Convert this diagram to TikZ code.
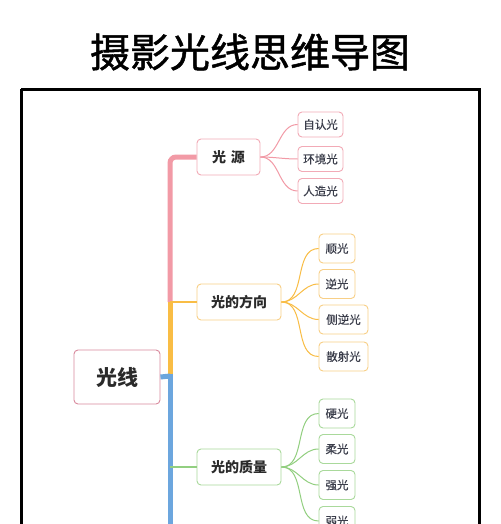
\documentclass[tikz,border=0pt]{standalone}
\usepackage{fontspec}
\setmainfont{Noto Sans CJK SC}
\newfontfamily\titlefont[FakeBold=1.2]{Noto Sans CJK SC}
\newfontfamily\leaffont[FakeBold=0.6]{Noto Sans CJK SC}
\usetikzlibrary{calc}
\definecolor{pinkln}{HTML}{F29AA6}
\definecolor{pinkbd}{HTML}{F2AAB6}
\definecolor{rootbd}{HTML}{D98A9E}
\definecolor{orgln}{HTML}{F9BD45}
\definecolor{orgbd}{HTML}{F8CF86}
\definecolor{blueln}{HTML}{6CA6DE}
\definecolor{grnln}{HTML}{92CF80}
\definecolor{grnbd}{HTML}{A9D99B}
\definecolor{txt}{HTML}{2A2A2A}
\definecolor{leaftxt}{HTML}{3A3D4A}
\begin{document}
\begin{tikzpicture}[x=1pt,y=-1pt,
  box/.style={draw, rounded corners=4pt, fill=white, line width=0.9pt, inner sep=0pt, align=center},
  rootbox/.style={box, draw=rootbd, minimum width=86pt, minimum height=54pt, font=\fontsize{21}{24}\selectfont\bfseries, text=txt},
  mainbox/.style={box, minimum width=84pt, minimum height=36pt, font=\fontsize{14}{16}\selectfont\bfseries, text=txt},
  leafbox/.style={box, minimum height=29pt, font=\leaffont\fontsize{11.5}{13}\selectfont, text=leaftxt},
  pleaf/.style={leafbox, draw=pinkbd, minimum width=45pt, minimum height=25pt},
  oleaf/.style={leafbox, draw=orgbd, minimum width=36pt},
  gleaf/.style={leafbox, draw=grnbd, minimum width=36pt},
  oleafw/.style={oleaf, minimum width=49pt},
  twig/.style={line width=1pt, out=0, in=180}
]
\useasboundingbox (0,0) rectangle (500,524);
\fill[white] (0,0) rectangle (500,524);

% title
\node[font=\titlefont\fontsize{40}{44}\selectfont, text=black] (title) at (250,52) {摄影光线思维导图};

% frame
\draw[line width=3pt, black] (21,89.5) -- (479,89.5) -- (479,540) (21,540) -- (21,89.5);

% coordinates on trunk
\coordinate (tp) at (170,302);
\coordinate (tb) at (170,376);
\coordinate (tg) at (170,467);
\coordinate (tend) at (170,540);

% main nodes
\node[rootbox] (root) at (117,377) {光线};
\node[mainbox, draw=pinkbd, minimum width=63pt] (src) at (228.5,157) {光\,\,源};
\node[mainbox, draw=orgbd] (dir) at (239,302) {光的方向};
\node[mainbox, draw=grnbd] (qual) at (239,467) {光的质量};

% trunk
\draw[pinkln, line width=5pt, rounded corners=6pt] (tp) |- (src.west);
\draw[orgln, line width=5pt] (tb) -- (tp);
\draw[orgln, line width=2.5pt] (tp) -- (dir.west);
\draw[blueln, line width=5pt] (root.east) -- (tb);
\draw[blueln, line width=5pt] ($(tb)+(0,-2.5)$) -- (tend);
\draw[grnln, line width=1.5pt] (tg) -- (qual.west);

% pink leaves
\node[pleaf] (p1) at (320.5,124.5) {自认光};
\node[pleaf] (p2) at (320.5,159) {环境光};
\node[pleaf] (p3) at (320.5,191) {人造光};
\foreach \l in {p1,p2,p3} \draw[pinkln, twig] (src.east) to (\l.west);

% orange leaves
\node[oleaf] (o1) at (337,248.5) {顺光};
\node[oleaf] (o2) at (337,284) {逆光};
\node[oleafw] (o3) at (343.5,319.5) {侧逆光};
\node[oleafw] (o4) at (343.5,356.5) {散射光};
\foreach \l in {o1,o2,o3,o4} \draw[orgln, twig] (dir.east) to (\l.west);

% green leaves
\node[gleaf] (g1) at (337,413.5) {硬光};
\node[gleaf] (g2) at (337,449) {柔光};
\node[gleaf] (g3) at (337,485) {强光};
\node[gleaf] (g4) at (337,521) {弱光};
\foreach \l in {g1,g2,g3,g4} \draw[grnln, twig] (qual.east) to (\l.west);
\end{tikzpicture}
\end{document}
